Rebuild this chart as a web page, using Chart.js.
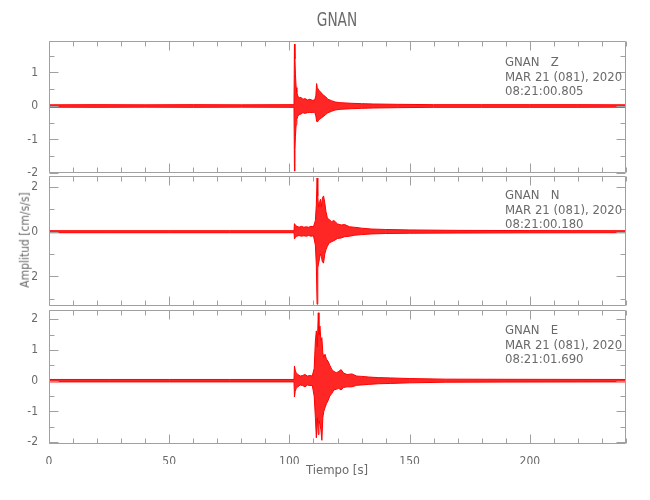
<!DOCTYPE html>
<html><head><meta charset="utf-8">
<script src="https://cdn.jsdelivr.net/npm/chart.js@4.4.1/dist/chart.umd.min.js"></script>
<style>
body{margin:0;background:#fff;width:650px;height:500px;position:relative;overflow:hidden;
 font-family:'Liberation Sans Narrow','DejaVu Sans Condensed','Liberation Sans',sans-serif;}
canvas{position:absolute;left:0;top:0;}
.t{position:absolute;color:#6a6a6a;white-space:pre;font-size:13px;line-height:14.5px;}
</style></head><body>
<canvas id="cZ" width="650" height="500"></canvas>
<canvas id="cN" width="650" height="500"></canvas>
<canvas id="cE" width="650" height="500"></canvas>
<div class="t" style="left:337px;top:8px;font-size:19px;line-height:22px;transform:translateX(-50%) scaleX(0.8);">GNAN</div>
<div class="t" style="left:505px;top:55px;">GNAN   Z
MAR 21 (081), 2020
08:21:00.805</div>
<div class="t" style="left:505px;top:188px;">GNAN   N
MAR 21 (081), 2020
08:21:00.180</div>
<div class="t" style="left:505px;top:323px;">GNAN   E
MAR 21 (081), 2020
08:21:01.690</div>
<div class="t" style="left:337px;top:470px;transform:translate(-50%,-50%);">Tiempo [s]</div>
<div class="t" style="left:25px;top:240px;font-size:12px;transform:translate(-50%,-50%) rotate(-90deg);">Amplitud [cm/s/s]</div>
<script>
// ---- data (time in s, envelope amplitude in cm/s/s) ----
const timeZ  = [0, 20, 40, 60, 80, 101.9, 102.1, 102.3, 102.5, 102.8, 103.1, 103.5, 104.0, 104.8, 105.6, 106.5, 107.5, 108.5, 109.5, 110.5, 111.0, 111.3, 111.6, 112.0, 112.5, 113.2, 114.0, 115.0, 116.0, 117.5, 119.0, 121.0, 123.5, 126.0, 130.0, 135.0, 145, 160, 180, 200, 220, 240];
const upperZ = [0.035, 0.04, 0.035, 0.04, 0.035, 0.04, 1.85, 1.4, 0.95, 0.55, 0.40, 0.30, 0.24, 0.26, 0.20, 0.22, 0.18, 0.20, 0.17, 0.18, 0.30, 0.67, 0.55, 0.50, 0.45, 0.40, 0.33, 0.28, 0.20, 0.16, 0.12, 0.10, 0.09, 0.08, 0.07, 0.06, 0.05, 0.04, 0.04, 0.04, 0.04, 0.035];
const lowerZ = [-0.035, -0.04, -0.035, -0.04, -0.035, -0.04, -1.94, -1.3, -0.9, -0.55, -0.40, -0.30, -0.26, -0.24, -0.20, -0.22, -0.20, -0.19, -0.20, -0.18, -0.30, -0.45, -0.48, -0.44, -0.40, -0.36, -0.32, -0.26, -0.20, -0.16, -0.12, -0.10, -0.09, -0.08, -0.07, -0.06, -0.05, -0.04, -0.04, -0.04, -0.04, -0.035];

const timeN  = [0, 25, 50, 75, 101.9, 102.1, 102.4, 103, 104, 105, 106, 107, 108, 109, 110, 110.8, 111.2, 111.5, 111.8, 112.1, 112.5, 112.9, 113.3, 113.7, 114.2, 114.7, 115.2, 115.8, 116.5, 117.5, 118.5, 120, 121.5, 123, 125, 127, 130, 134, 140, 150, 170, 200, 240];
const upperN = [0.045, 0.045, 0.045, 0.045, 0.045, 0.36, 0.30, 0.25, 0.20, 0.24, 0.20, 0.22, 0.20, 0.24, 0.22, 0.50, 1.2, 2.4, 1.6, 1.1, 1.3, 1.45, 1.1, 1.5, 1.6, 1.3, 0.9, 0.6, 0.55, 0.45, 0.50, 0.35, 0.30, 0.32, 0.22, 0.20, 0.16, 0.12, 0.10, 0.08, 0.06, 0.05, 0.045];
const lowerN = [-0.045, -0.045, -0.045, -0.045, -0.045, -0.32, -0.27, -0.20, -0.17, -0.20, -0.18, -0.20, -0.17, -0.20, -0.18, -0.6, -1.5, -3.24, -1.6, -1.45, -1.2, -1.0, -1.1, -1.35, -1.4, -1.0, -0.8, -0.65, -0.5, -0.45, -0.40, -0.30, -0.28, -0.22, -0.20, -0.16, -0.13, -0.10, -0.08, -0.07, -0.06, -0.05, -0.045];

const timeE  = [0, 25, 50, 75, 101.9, 102.1, 102.4, 102.8, 103.5, 104.5, 105.5, 106.5, 107.5, 108.5, 109.5, 110.3, 110.8, 111.2, 111.6, 112.0, 112.3, 112.7, 113.1, 113.5, 113.9, 114.3, 114.8, 115.4, 116.0, 116.8, 117.6, 118.5, 119.5, 120.5, 121.5, 122.5, 124, 126, 128, 130, 133, 137, 142, 150, 165, 190, 240];
const upperE = [0.04, 0.04, 0.04, 0.04, 0.04, 0.48, 0.35, 0.26, 0.20, 0.15, 0.17, 0.20, 0.15, 0.17, 0.15, 0.40, 1.29, 1.62, 1.1, 2.21, 1.5, 1.78, 1.3, 1.4, 0.9, 0.75, 0.86, 0.7, 0.64, 0.5, 0.37, 0.30, 0.26, 0.30, 0.36, 0.25, 0.20, 0.22, 0.15, 0.14, 0.12, 0.10, 0.09, 0.07, 0.05, 0.045, 0.04];
const lowerE = [-0.04, -0.04, -0.04, -0.04, -0.04, -0.53, -0.35, -0.25, -0.20, -0.14, -0.16, -0.20, -0.14, -0.16, -0.15, -0.5, -1.2, -1.86, -1.2, -1.75, -1.3, -1.42, -1.6, -1.94, -1.2, -1.0, -0.88, -0.75, -0.66, -0.5, -0.42, -0.30, -0.28, -0.25, -0.30, -0.22, -0.20, -0.20, -0.15, -0.14, -0.12, -0.10, -0.09, -0.07, -0.05, -0.045, -0.04];

const xTickLabels  = ['0', '50', '100', '150', '200'];
const yTickValsZ   = [-2, -1, 0, 1];
const yTickLabsZ   = ['-2', '-1', '0', '1'];
const yTickValsN   = [-2, 0, 2];
const yTickLabsN   = ['2', '0', '2'];
const yTickValsE   = [-2, -1, 0, 1, 2];
const yTickLabsE   = ['-2', '-1', '0', '1', '2'];

// ---- drawing ----
const FONT = {family: "'Liberation Sans Narrow','DejaVu Sans Condensed','Liberation Sans',sans-serif", size: 12};
const AX = '#a0a0a0', TXT = '#6a6a6a';

const framePlugin = {
  id: 'frame',
  afterDraw(chart, args, o) {
    const {ctx, chartArea: a, scales: {x, y}} = chart;
    ctx.save();
    ctx.strokeStyle = AX; ctx.lineWidth = 1;
    ctx.beginPath();
    const L = Math.round(a.left) + 0.5, R = Math.round(a.right) - 0.5,
          T = Math.round(a.top) + 0.5, B = Math.round(a.bottom) - 0.5;
    ctx.rect(L, T, R - L, B - T);
    for (let v = 0; v <= x.max + 1e-9; v += o.xMinor) {
      const px = Math.round(x.getPixelForValue(v)) + 0.5;
      const len = (Math.abs(v % o.xMajor) < 1e-9) ? 9 : 5;
      ctx.moveTo(px, T); ctx.lineTo(px, T + len);
      ctx.moveTo(px, B); ctx.lineTo(px, B - len);
    }
    const start = Math.ceil(y.min / o.yMinor) * o.yMinor;
    for (let v = start; v <= y.max + 1e-9; v += o.yMinor) {
      const py = Math.round(y.getPixelForValue(v)) + 0.5;
      const major = o.yMajor.some(m => Math.abs(m - v) < 1e-9);
      const len = major ? 9 : 5;
      ctx.moveTo(L, py); ctx.lineTo(L + len, py);
      ctx.moveTo(R, py); ctx.lineTo(R - len, py);
    }
    ctx.stroke();
    ctx.restore();
  }
};

function makePanel(id, t, up, lo, cfg) {
  return new Chart(document.getElementById(id), {
    type: 'line',
    data: { datasets: [
      { data: t.map((v, i) => ({x: v, y: up[i]})), borderColor: '#ff0000', backgroundColor: 'rgba(255,0,0,0.85)',
        borderWidth: 1, pointRadius: 0, fill: '+1', tension: 0 },
      { data: t.map((v, i) => ({x: v, y: lo[i]})), borderColor: '#ff0000', backgroundColor: 'rgba(255,0,0,0.85)',
        borderWidth: 1, pointRadius: 0, fill: false, tension: 0 }
    ]},
    options: {
      responsive: false, animation: false, events: [],
      layout: { padding: { left: 0, right: 24, top: cfg.top, bottom: cfg.bottom } },
      plugins: { legend: {display: false}, tooltip: {enabled: false},
                 frame: { xMinor: 10, xMajor: 50, yMinor: cfg.yMinor, yMajor: cfg.yVals } },
      scales: {
        x: { type: 'linear', min: 0, max: 240, display: cfg.showX,
             grid: {display: false}, border: {display: false},
             ticks: { stepSize: 50, padding: 3, font: FONT, color: TXT, maxRotation: 0, autoSkip: false,
                      callback: v => xTickLabels.includes(String(v)) ? String(v) : '' },
             afterFit: s => { s.height = cfg.showX ? 20 : 0; } },
        y: { type: 'linear', min: cfg.min, max: cfg.max,
             grid: {display: false}, border: {display: false},
             ticks: { padding: 3, font: FONT, color: TXT,
                      callback: (v) => { const i = cfg.yVals.indexOf(v); return i >= 0 ? cfg.yLabs[i] : ''; } },
             afterBuildTicks: s => { s.ticks = cfg.yVals.map(v => ({value: v})); },
             afterFit: s => { s.width = 49; } }
      }
    },
    plugins: [framePlugin]
  });
}

makePanel('cZ', timeZ, upperZ, lowerZ, {top: 41, bottom: 500 - 173, showX: false, min: -2.0, max: 1.94, yMinor: 0.5, yVals: yTickValsZ, yLabs: yTickLabsZ});
makePanel('cN', timeN, upperN, lowerN, {top: 176, bottom: 500 - 306, showX: false, min: -3.32, max: 2.49, yMinor: 1, yVals: yTickValsN, yLabs: yTickLabsN});
makePanel('cE', timeE, upperE, lowerE, {top: 310, bottom: 500 - 444 - 20, showX: true, min: -2.06, max: 2.30, yMinor: 0.5, yVals: yTickValsE, yLabs: yTickLabsE});
</script>
</body></html>
